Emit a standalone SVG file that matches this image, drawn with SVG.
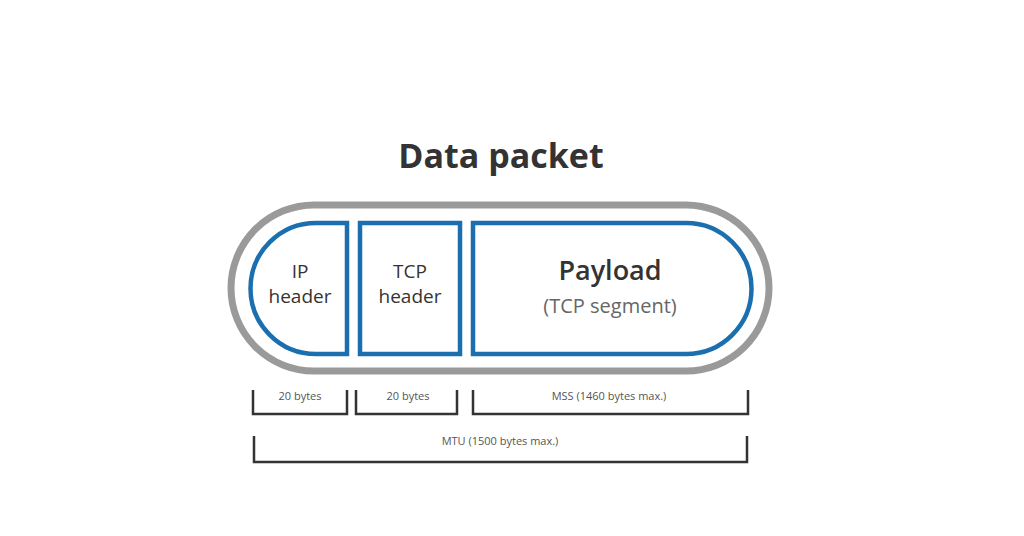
<svg xmlns="http://www.w3.org/2000/svg" width="1024" height="536" viewBox="0 0 1024 536">
<style>
.blue{fill:#fff;stroke:#1b6fae;stroke-width:4.5}
.br{fill:none;stroke:#333;stroke-width:2.5}
.t{font-family:"Open Sans","Liberation Sans",sans-serif;fill:#333;text-anchor:middle}
.s{font-family:"Open Sans","Liberation Sans",sans-serif;fill:#555;text-anchor:middle;font-size:11px}
</style>
<rect width="1024" height="536" fill="#fff"/>
<text class="t" x="501" y="168" font-size="34" font-weight="bold">Data packet</text>
<g id="packet"><rect x="231" y="205" width="538" height="166" rx="83" fill="#fff" stroke="#9a9a9a" stroke-width="7"/></g>
<g id="ip"><path class="blue" d="M347,223 H316 A65.5,65.5 0 0 0 316,354 H347 Z"/>
<text class="t" x="300" y="278" font-size="19">IP</text><text class="t" x="300" y="303" font-size="19">header</text></g>
<g id="tcp"><rect class="blue" x="360" y="223" width="100" height="131"/>
<text class="t" x="410" y="278" font-size="19">TCP</text><text class="t" x="410" y="303" font-size="19">header</text></g>
<g id="payload"><path class="blue" d="M473,223 H686 A65.5,65.5 0 0 1 686,354 H473 Z"/>
<text class="t" x="610" y="280" font-size="27" font-weight="600">Payload</text>
<text class="t" x="610" y="313" font-size="20" fill="#666" style="fill:#666">(TCP segment)</text></g>
<g id="connectors">
<path class="br" d="M253,390 V414 H347 V390"/>
<path class="br" d="M356,390 V414 H457 V390"/>
<path class="br" d="M473,390 V414 H748 V390"/>
<path class="br" d="M254,436 V462 H747 V436"/>
</g>
<text class="s" x="300" y="400">20 bytes</text>
<text class="s" x="408" y="400">20 bytes</text>
<text class="s" x="609" y="400">MSS (1460 bytes max.)</text>
<text class="s" x="500" y="445">MTU (1500 bytes max.)</text>
</svg>
